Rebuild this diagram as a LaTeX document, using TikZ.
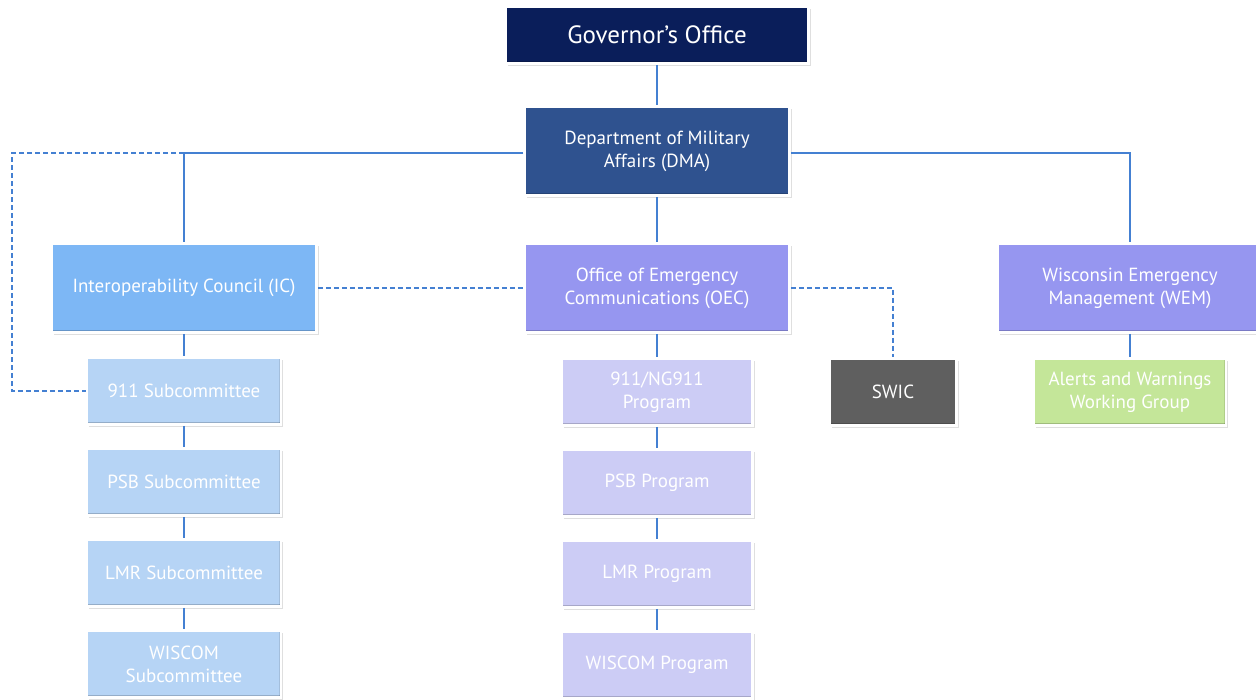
\documentclass[tikz,border=0pt]{standalone}
\usepackage{fontspec}
\setmainfont{PT Sans}
\usepackage{tikz}
\usetikzlibrary{positioning,shadows,calc}
\definecolor{govblue}{RGB}{10,30,90}
\definecolor{dmablue}{RGB}{47,82,143}
\definecolor{icblue}{RGB}{125,183,245}
\definecolor{oecpurple}{RGB}{150,150,240}
\definecolor{subblue}{RGB}{182,212,245}
\definecolor{progpurple}{RGB}{204,204,245}
\definecolor{swicgray}{RGB}{95,95,95}
\definecolor{alertgreen}{RGB}{196,230,153}
\definecolor{linkblue}{RGB}{68,128,210}
\tikzset{
	x=1pt, y=-1pt, % one unit per pixel, y runs downwards
	orgbox/.style={draw=white, line width=2.5pt, text=white, align=center, inner sep=0pt,
		font=\fontsize{19}{23}\selectfont,
		drop shadow={opacity=0.25, shadow xshift=2pt, shadow yshift=-2pt},
		path picture={
			\fill[black, opacity=0.18] (path picture bounding box.south west) rectangle ([yshift=3pt]path picture bounding box.south east);
			\fill[black, opacity=0.10] (path picture bounding box.north east) rectangle ([xshift=-2pt]path picture bounding box.south east);}},
	bigbox/.style={orgbox, minimum width=265pt, minimum height=89pt},
	smallbox/.style={orgbox, minimum width=194pt, minimum height=67pt},
	progbox/.style={smallbox, fill=progpurple, minimum width=191pt},
	link/.style={linkblue, line width=1.2pt},
	dashlink/.style={link, dash pattern=on 5pt off 3pt},
}
\begin{document}
\begin{tikzpicture}
	\useasboundingbox[fill=white] (0,0) rectangle (1256,699);
	\coordinate (hleft) at (184,153);
	\coordinate (hright) at (1130,153);
	\coordinate (dleft) at (12,153);
	\coordinate (dbottom) at (12,391);
	\coordinate (swicbend) at (893,288);

	\node[orgbox, fill=govblue, minimum width=303pt, minimum height=57pt, font=\fontsize{25}{28}\selectfont] (GOV) at (657,35) {Governor’s Office};
	\node[bigbox, fill=dmablue] (DMA) at (657,151) {Department of Military\\Affairs (DMA)};
	\node[bigbox, fill=icblue] (IC) at (184,288) {Interoperability Council (IC)};
	\node[bigbox, fill=oecpurple] (OEC) at (657,288) {Office of Emergency\\Communications (OEC)};
	\node[bigbox, fill=oecpurple] (WEM) at (1130,288) {Wisconsin Emergency\\Management (WEM)};

	% left column
	\node[smallbox, fill=subblue] (SUB911) at (184,391) {911 Subcommittee};
	\node[smallbox, fill=subblue, below=21.5pt of SUB911] (SUBPSB) {PSB Subcommittee};
	\node[smallbox, fill=subblue, below=21.5pt of SUBPSB] (SUBLMR) {LMR Subcommittee};
	\node[smallbox, fill=subblue, below=21.5pt of SUBLMR] (SUBWIS) {WISCOM\\Subcommittee};

	% middle column
	\node[progbox] (PROG911) at (657,392) {911/NG911\\Program};
	\node[progbox, below=21.5pt of PROG911] (PROGPSB) {PSB Program};
	\node[progbox, below=21.5pt of PROGPSB] (PROGLMR) {LMR Program};
	\node[progbox, below=21.5pt of PROGLMR] (PROGWIS) {WISCOM Program};

	\node[smallbox, fill=swicgray, minimum width=127pt] (SWIC) at (893,392) {SWIC};
	\node[smallbox, fill=alertgreen, minimum width=192pt] (ALERT) at (1130,392) {Alerts and Warnings\\Working Group};

	\draw[link] (GOV) -- (DMA);
	\draw[link] (DMA.west |- hleft) -- (hleft) -- (IC);
	\draw[link] (DMA.east |- hright) -- (hright) -- (WEM);
	\draw[link] (DMA) -- (OEC);
	\draw[link] (IC) -- (SUB911);
	\draw[link] (SUB911) -- (SUBPSB);
	\draw[link] (SUBPSB) -- (SUBLMR);
	\draw[link] (SUBLMR) -- (SUBWIS);
	\draw[link] (OEC) -- (PROG911);
	\draw[link] (PROG911) -- (PROGPSB);
	\draw[link] (PROGPSB) -- (PROGLMR);
	\draw[link] (PROGLMR) -- (PROGWIS);
	\draw[link] (WEM) -- (ALERT);
	\draw[dashlink] (hleft) -- (dleft) -- (dbottom) -- (SUB911.west);
	\draw[dashlink] (IC) -- (OEC);
	\draw[dashlink] (OEC.east) -- (swicbend) -- (SWIC);
\end{tikzpicture}
\end{document}
